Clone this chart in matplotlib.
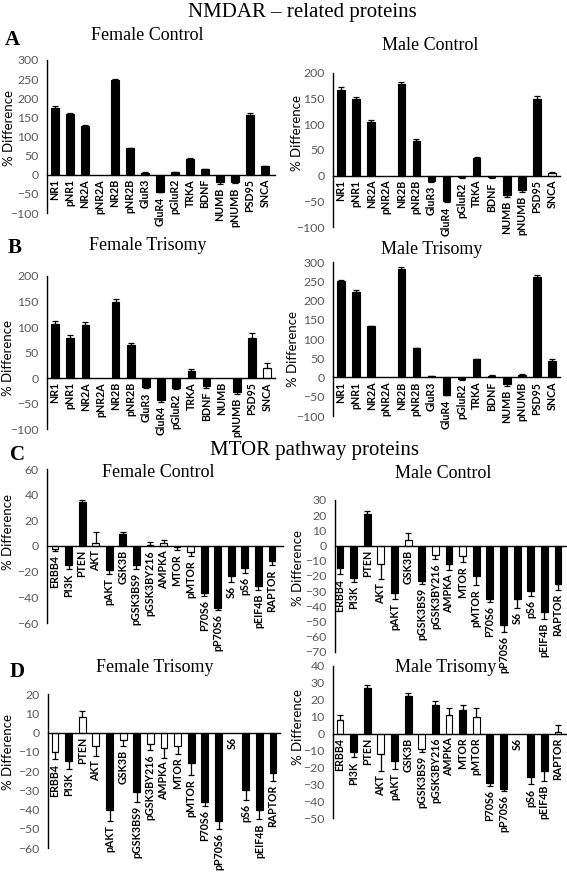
import numpy as np
import matplotlib
matplotlib.use("Agg")
from matplotlib import pyplot as plt

W, H = 567, 872

# ---- data ----
nmdar = ['NR1', 'pNR1', 'NR2A', 'pNR2A', 'NR2B', 'pNR2B', 'GluR3', 'GluR4',
         'pGluR2', 'TRKA', 'BDNF', 'NUMB', 'pNUMB', 'PSD95', 'SNCA']
mtor = ['ERBB4', 'PI3K', 'PTEN', 'AKT', 'pAKT', 'GSK3B', 'pGSK3BS9', 'pGSK3BY216',
        'AMPKA', 'MTOR', 'pMTOR', 'P70S6', 'pP70S6', 'S6', 'pS6', 'pEIF4B', 'RAPTOR']

fc_nmdar = [175, 158, 127, 0, 247, 70, 5, -45, 6, 42, 15, -20, -20, 156, 23]
fc_nmdar_err = [5, 4, 4, 0, 4, 1, 1, 1, 1, 1, 1, 4, 2, 5, 1]
fc_nmdar_open = [0, 0, 0, 0, 0, 0, 0, 0, 0, 0, 0, 0, 0, 0, 0]

mc_nmdar = [167, 150, 104, 0, 178, 68, -10, -50, -3, 35, -3, -38, -28, 150, 5]
mc_nmdar_err = [5, 4, 5, 0, 4, 3, 2, 2, 2, 1, 2, 3, 3, 6, 3]
mc_nmdar_open = [0, 0, 0, 0, 0, 0, 0, 0, 0, 0, 0, 0, 0, 0, 1]

ft_nmdar = [105, 78, 104, 0, 149, 65, -17, -43, -20, 13, -15, 0, -28, 78, 19]
ft_nmdar_err = [6, 6, 5, 0, 5, 4, 3, 4, 2, 5, 4, 0, 3, 11, 11]
ft_nmdar_open = [0, 0, 0, 0, 0, 0, 0, 0, 0, 0, 0, 0, 0, 0, 1]

mt_nmdar = [251, 222, 133, 0, 282, 76, 3, -45, -5, 47, 5, -18, 7, 262, 42]
mt_nmdar_err = [3, 5, 1, 0, 4, 1, 1, 1, 1, 1, 1, 4, 1, 5, 6]
mt_nmdar_open = [0, 0, 0, 0, 0, 0, 0, 0, 0, 0, 0, 0, 0, 0, 0]

fc_mtor = [-2, -15, 34, 2, -19, 9, -15, 1, 2, -1, -5, -37, -48, -23, -17, -31, -12]
fc_mtor_err = [2, 3, 2, 9, 3, 2, 3, 2, 3, 2, 3, 2, 2, 5, 4, 3, 3]
fc_mtor_open = [1, 0, 0, 1, 0, 0, 0, 1, 1, 1, 1, 0, 0, 0, 0, 0, 0]

mc_mtor = [-15, -21, 21, -12, -31, 4, -23, -6, -12, -7, -20, -35, -52, -35, -30, -44, -25]
mc_mtor_err = [4, 3, 2, 10, 4, 4, 2, 3, 4, 4, 6, 2, 5, 6, 3, 4, 4]
mc_mtor_open = [0, 0, 0, 1, 0, 1, 0, 1, 0, 1, 0, 0, 0, 0, 0, 0, 0]

ft_mtor = [-10, -15, 8, -7, -40, -4, -31, -6, -8, -7, -16, -36, -46, 0, -30, -40, -21]
ft_mtor_err = [4, 4, 3, 5, 6, 3, 5, 3, 5, 4, 6, 2, 4, 0, 5, 5, 4]
ft_mtor_open = [1, 0, 1, 1, 0, 1, 0, 1, 1, 1, 0, 0, 0, 0, 0, 0, 0]

mt_mtor = [8, -11, 27, -12, -16, 22, -9, 17, 11, 14, 10, -29, -33, 0, -26, -22, 1]
mt_mtor_err = [3, 3, 2, 10, 5, 2, 2, 2, 4, 3, 5, 2, 1, 0, 4, 6, 4]
mt_mtor_open = [1, 0, 0, 1, 0, 0, 1, 0, 1, 0, 1, 0, 0, 0, 0, 0, 1]

plt.rcParams['font.family'] = ['Lato', 'DejaVu Sans']
serif = 'Liberation Serif'
grey = '#595959'

fig = plt.figure(figsize=(W / 100, H / 100), dpi=100)


def panel(cats, vals, errs, opens, box, ylim, step, ylab_pos):
    # box = (axis_x, first_bar_x, last_bar_x, end_x, y_top_px, y_bottom_px)
    ax_x, x0, x1, x_end, ytop, ybot = box
    n = len(cats)
    sp = (x1 - x0) / (n - 1)
    lo = -(x0 - ax_x) / sp
    hi = (n - 1) + (x_end - x1) / sp
    ax = fig.add_axes([ax_x / W, 1 - ybot / H, (x_end - ax_x) / W, (ybot - ytop) / H])
    ax.set_xlim(lo, hi)
    ax.set_ylim(*ylim)
    for i, v in enumerate(vals):
        if v == 0:
            continue
        fc = 'white' if opens[i] else 'black'
        ax.bar(i, v, width=0.5, color=fc, edgecolor='black', linewidth=0.8, zorder=2)
        e = errs[i]
        yerr = [[0], [e]] if v > 0 else [[e], [0]]
        ax.errorbar(i, v, yerr=yerr, fmt='none', ecolor='black', elinewidth=0.9,
                    capsize=2.2, capthick=0.9, zorder=3)
    for i, c in enumerate(cats):
        v, e = vals[i], errs[i]
        y0 = min(0, v - e) if v < 0 else 0
        ax.annotate(c, xy=(i, y0), xytext=(0, -3), textcoords='offset points',
                    rotation=90, ha='center', va='top', fontsize=7.7,
                    fontweight='bold', annotation_clip=False)
    ax.spines['top'].set_visible(False)
    ax.spines['right'].set_visible(False)
    ax.spines['bottom'].set_position(('data', 0))
    ax.spines['left'].set_linewidth(1)
    ax.spines['bottom'].set_linewidth(1)
    ax.set_xticks([])
    ax.set_yticks(np.arange(ylim[0], ylim[1] + 0.1, step))
    ax.tick_params(axis='y', length=0, pad=6, labelsize=8.8, labelcolor=grey)
    ax.patch.set_alpha(0)
    fig.text(ylab_pos[0] / W, 1 - ylab_pos[1] / H, '% Difference', rotation=90,
             ha='center', va='center', fontsize=9.5)
    return ax


def label(x, y, s, size=13, weight='normal', ha='center'):
    fig.text(x / W, 1 - y / H, s, family=serif, fontsize=size, fontweight=weight,
             ha=ha, va='center')


label(302, 12, 'NMDAR \u2013 related proteins', size=15)
label(5, 40, 'A', size=15, weight='bold', ha='left')
label(147, 36, 'Female Control')
label(430, 45, 'Male Control')
label(8, 248, 'B', size=15, weight='bold', ha='left')
label(148, 246, 'Female Trisomy')
label(432, 250, 'Male Trisomy')
label(315, 450, 'MTOR pathway proteins', size=15)
label(10, 455, 'C', size=15, weight='bold', ha='left')
label(158, 472, 'Female Control')
label(443, 473, 'Male Control')
label(10, 672, 'D', size=15, weight='bold', ha='left')
label(155, 667, 'Female Trisomy')
label(446, 667, 'Male Trisomy')

panel(nmdar, fc_nmdar, fc_nmdar_err, fc_nmdar_open, (47, 55, 265, 275, 60, 213),
      (-100, 300), 50, (9, 128))
panel(nmdar, mc_nmdar, mc_nmdar_err, mc_nmdar_open, (333, 341, 552, 560, 73, 227),
      (-100, 200), 50, (297, 133))
panel(nmdar, ft_nmdar, ft_nmdar_err, ft_nmdar_open, (47, 55, 267, 275, 276, 429),
      (-100, 200), 50, (8, 358))
panel(nmdar, mt_nmdar, mt_nmdar_err, mt_nmdar_open, (333, 341, 552, 560, 262, 416),
      (-100, 300), 50, (293, 349))
panel(mtor, fc_mtor, fc_mtor_err, fc_mtor_open, (47, 55, 272, 283, 469, 623),
      (-60, 60), 20, (8, 532))
panel(mtor, mc_mtor, mc_mtor_err, mc_mtor_open, (335, 340, 558, 566, 500, 652),
      (-70, 30), 10, (298, 568))
panel(mtor, ft_mtor, ft_mtor_err, ft_mtor_open, (48, 55, 273, 280, 694, 848),
      (-60, 20), 10, (8, 752))
panel(mtor, mt_mtor, mt_mtor_err, mt_mtor_open, (333, 340, 558, 566, 666, 818),
      (-50, 40), 10, (298, 727))

fig.savefig('out.png', dpi=100)
